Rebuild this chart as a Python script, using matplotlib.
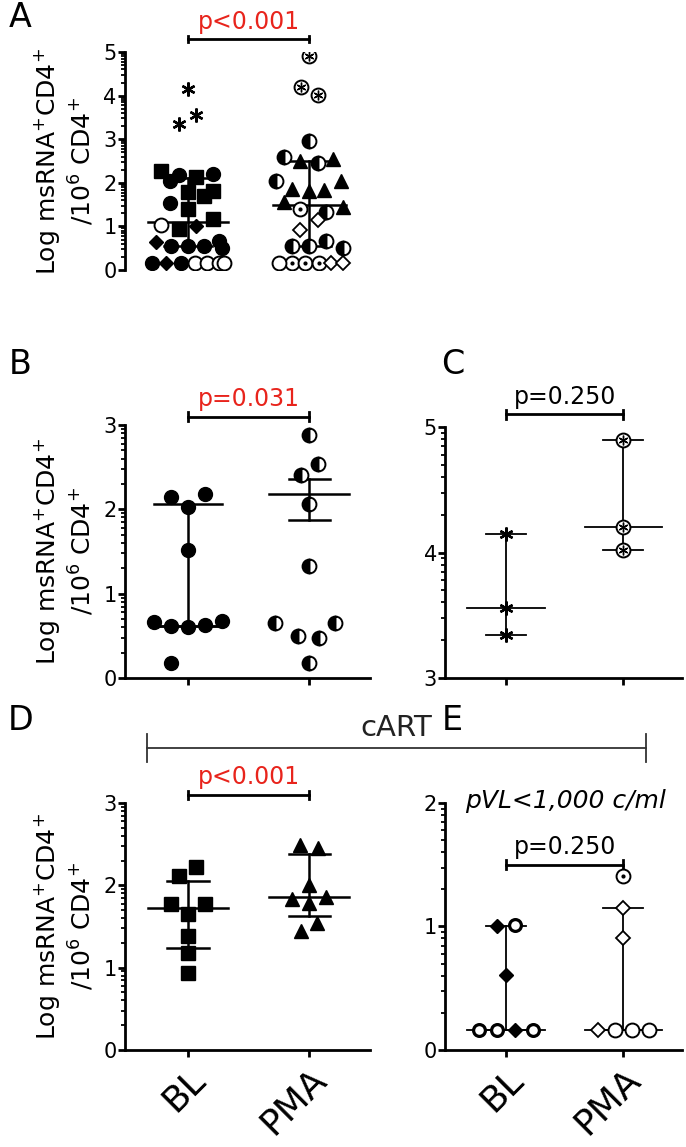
import numpy as np
import matplotlib.pyplot as plt

plt.rcParams['font.family'] = ['DejaVu Sans']

groups = ['BL', 'PMA']

# ---- panel A: all participants ----
a_bl_y = [2.26, 2.04, 2.19, 2.14, 2.21, 1.80, 1.81, 1.70, 1.53, 1.40, 1.18, 1.03, 0.93, 1.02,
          0.65, 0.55, 0.55, 0.55, 0.67, 0.50, 0.17, 0.17, 0.17, 0.17, 0.17, 0.17, 0.17,
          4.15, 3.56, 3.34]
a_bl_dx = [-0.22, -0.15, -0.075, 0.064, 0.21, 0.0, 0.21, 0.13, -0.15, 0.0, 0.21, -0.22, -0.075, 0.064,
           -0.26, -0.14, 0.0, 0.13, 0.26, 0.28, -0.30, -0.18, -0.06, 0.06, 0.16, 0.26, 0.30,
           0.0, 0.065, -0.075]
a_bl_kind = ['sq', 'fc', 'fc', 'sq', 'fc', 'sq', 'sq', 'sq', 'fc', 'sq', 'sq', 'oc', 'sq', 'fd',
             'fd', 'fc', 'fc', 'fc', 'fc', 'fc', 'fc', 'fd', 'fc', 'oc', 'oc', 'oc', 'oc',
             'st', 'st', 'st']
a_bl_stats = [1.10, 0.55, 2.10]   # median, q1, q3

a_pma_y = [2.95, 2.59, 2.49, 2.45, 2.55, 2.05, 1.86, 1.81, 1.84, 2.04, 1.55, 1.41, 1.33, 1.45,
           1.15, 0.91, 0.55, 0.55, 0.67, 0.50, 0.17, 0.17, 0.17, 0.17, 0.17, 0.17,
           4.90, 4.20, 4.02]
a_pma_dx = [0.0, -0.21, -0.075, 0.07, 0.20, -0.27, -0.14, 0.0, 0.125, 0.26, -0.21, -0.075, 0.14, 0.28,
            0.07, -0.075, -0.14, 0.0, 0.14, 0.28, -0.25, -0.14, -0.03, 0.08, 0.18, 0.28,
            0.0, -0.07, 0.07]
a_pma_kind = ['hc', 'hc', 'tr', 'hc', 'tr', 'hc', 'tr', 'tr', 'tr', 'tr', 'tr', 'dc', 'hc', 'tr',
              'od', 'od', 'hc', 'hc', 'hc', 'hc', 'oc', 'dc', 'dc', 'dc', 'od', 'od',
              'cs', 'cs', 'cs']
a_pma_stats = [1.50, 0.55, 2.49]

# ---- panel B ----
b_bl_y = [2.15, 2.18, 2.03, 1.52, 0.66, 0.62, 0.60, 0.63, 0.68, 0.18]
b_bl_dx = [-0.14, 0.14, 0.0, 0.0, -0.28, -0.14, 0.0, 0.14, 0.28, -0.14]
b_bl_stats = [0.62, 0.62, 2.06]
b_pma_y = [2.88, 2.54, 2.41, 2.06, 1.33, 0.65, 0.65, 0.50, 0.48, 0.18]
b_pma_dx = [0.0, 0.075, -0.07, 0.0, 0.0, -0.28, 0.21, -0.09, 0.08, 0.0]
b_pma_stats = [2.18, 1.87, 2.36]   # mean, -sem, +sem

# ---- panel C ----
c_bl_y = [4.15, 3.56, 3.34]
c_pma_y = [4.90, 4.20, 4.02]
c_bl_stats = [3.56, 3.34, 4.15]
c_pma_stats = [4.20, 4.02, 4.90]

# ---- panel D: cART ----
d_bl_y = [2.22, 2.11, 1.77, 1.77, 1.65, 1.39, 1.18, 0.94]
d_bl_dx = [0.064, -0.075, -0.14, 0.14, 0.0, 0.0, 0.0, 0.0]
d_bl_stats = [1.72, 1.24, 2.05]
d_pma_y = [2.49, 2.45, 2.00, 1.84, 1.86, 1.79, 1.54, 1.44]
d_pma_dx = [-0.075, 0.07, 0.0, -0.14, 0.14, 0.0, 0.066, -0.07]
d_pma_stats = [1.86, 1.63, 2.38]

# ---- panel E: pVL<1,000 ----
e_bl_y = [1.00, 1.01, 0.61, 0.16, 0.16, 0.16, 0.16]
e_bl_dx = [-0.078, 0.078, 0.0, -0.23, -0.078, 0.078, 0.23]
e_bl_kind = ['fd', 'bc', 'fd', 'bc', 'bc', 'fd', 'bc']
e_bl_stats = [0.16, 0.16, 1.00]
e_pma_y = [1.41, 1.15, 0.91, 0.16, 0.16, 0.16, 0.16]
e_pma_dx = [0.0, 0.0, 0.0, -0.22, -0.075, 0.075, 0.22]
e_pma_kind = ['dc', 'od', 'od', 'od', 'oc', 'oc', 'oc']
e_pma_stats = [0.16, 0.16, 1.15]

MS = 10
STYLE = {
    'fc': dict(marker='o', mfc='k', mec='k'),
    'sq': dict(marker='s', mfc='k', mec='k', ms=MS - 0.5),
    'fd': dict(marker='D', mfc='k', mec='k', ms=MS - 2.5),
    'oc': dict(marker='o', mfc='white', mec='k', mew=1.4),
    'bc': dict(marker='o', mfc='white', mec='k', mew=2.3, ms=MS - 1.5),
    'hc': dict(marker='o', mfc='k', mec='k', fillstyle='left', markerfacecoloralt='white', mew=1.4),
    'tr': dict(marker='^', mfc='k', mec='k'),
    'od': dict(marker='D', mfc='white', mec='k', mew=1.3, ms=MS - 2.5),
    'st': dict(marker=(6, 2, 0), mfc='k', mec='k', mew=1.7),
    'cs': dict(marker='o', mfc='white', mec='k', mew=1.4),
    'dc': dict(marker='o', mfc='white', mec='k', mew=1.4),
}


def scatter_group(ax, x0, ys, dxs, kinds):
    ys = np.asarray(ys)
    xs = x0 + np.asarray(dxs)
    kinds = np.asarray(kinds)
    for k in np.unique(kinds):
        m = kinds == k
        kw = dict(ms=MS, ls='none', zorder=3)
        kw.update(STYLE[k])
        ax.plot(xs[m], ys[m], **kw)
        if k == 'cs':
            ax.plot(xs[m], ys[m], marker=(6, 2, 0), ms=MS - 3, mec='k', mew=1.0, ls='none', zorder=4)
        if k == 'dc':
            ax.plot(xs[m], ys[m], marker='o', ms=2, mfc='k', mec='k', ls='none', zorder=4)


def summary(ax, x, stats, wmid, wcap, lw=1.8):
    mid, lo, hi = stats
    ax.plot([x, x], [lo, hi], color='k', lw=lw, zorder=2)
    ax.plot([x - wmid, x + wmid], [mid, mid], color='k', lw=lw, zorder=2)
    for v in (lo, hi):
        ax.plot([x - wcap, x + wcap], [v, v], color='k', lw=lw, zorder=2)


def bracket(ax, y, d, text, color):
    ax.plot([0, 1], [y, y], color='k', lw=2, clip_on=False)
    for x in (0, 1):
        ax.plot([x, x], [y - d, y + d], color='k', lw=2, clip_on=False)
    ax.text(0.5, y + 1.3 * d, text, color=color, ha='center', va='bottom', fontsize=17, clip_on=False)


def style_axes(ax, ymin, ymax, show_x=True, labels=False):
    ax.set_xlim(-0.52, 1.5)
    ax.set_ylim(ymin, ymax)
    for s in ('top', 'right'):
        ax.spines[s].set_visible(False)
    ax.spines['left'].set_linewidth(2)
    ax.spines['bottom'].set_linewidth(2)
    ax.set_yticks(range(ymin, ymax + 1))
    minors = [n + np.log10(k) for n in range(ymin, ymax) for k in range(2, 10)]
    ax.set_yticks(minors, minor=True)
    ax.tick_params(axis='y', which='major', length=5, width=2, labelsize=15, pad=1)
    ax.tick_params(axis='y', which='minor', length=3, width=1.3)
    ax.set_xticks([0, 1])
    if labels:
        ax.set_xticklabels(groups, rotation=45, ha='right', rotation_mode='anchor', fontsize=26)
    else:
        ax.set_xticklabels([])
    ax.tick_params(axis='x', length=5, width=2)
    if not show_x:
        ax.spines['bottom'].set_visible(False)
        ax.tick_params(axis='x', length=0)


ylab = 'Log msRNA$^{+}$CD4$^{+}$\n/10$^{6}$ CD4$^{+}$'

fig = plt.figure(figsize=(6.86, 11.47), dpi=100)
axA = fig.add_axes([0.182, 0.7646, 0.357, 0.190])
axB = fig.add_axes([0.182, 0.4089, 0.357, 0.2206])
axC = fig.add_axes([0.649, 0.4089, 0.345, 0.2188])
axD = fig.add_axes([0.182, 0.0846, 0.357, 0.2153])
axE = fig.add_axes([0.649, 0.0846, 0.345, 0.2153])

# A
style_axes(axA, 0, 5, show_x=False)
summary(axA, 0, a_bl_stats, 0.33, 0.2)
summary(axA, 1, a_pma_stats, 0.3, 0.18)
scatter_group(axA, 0, a_bl_y, a_bl_dx, a_bl_kind)
scatter_group(axA, 1, a_pma_y, a_pma_dx, a_pma_kind)
bracket(axA, 5.3, 0.08, 'p<0.001', '#e8241c')
axA.set_ylabel(ylab, fontsize=18, labelpad=5)

# B
style_axes(axB, 0, 3)
summary(axB, 0, b_bl_stats, 0.28, 0.28)
summary(axB, 1, b_pma_stats, 0.33, 0.17)
scatter_group(axB, 0, b_bl_y, b_bl_dx, ['fc'] * len(b_bl_y))
scatter_group(axB, 1, b_pma_y, b_pma_dx, ['hc'] * len(b_pma_y))
bracket(axB, 3.1, 0.05, 'p=0.031', '#e8241c')
axB.set_ylabel(ylab, fontsize=18, labelpad=5)

# C
style_axes(axC, 3, 5)
summary(axC, 0, c_bl_stats, 0.33, 0.17, lw=1.3)
summary(axC, 1, c_pma_stats, 0.33, 0.17, lw=1.3)
scatter_group(axC, 0, c_bl_y, [0] * 3, ['st'] * 3)
scatter_group(axC, 1, c_pma_y, [0] * 3, ['cs'] * 3)
bracket(axC, 5.1, 0.035, 'p=0.250', 'k')

# D
style_axes(axD, 0, 3, labels=True)
summary(axD, 0, d_bl_stats, 0.33, 0.17)
summary(axD, 1, d_pma_stats, 0.33, 0.17)
scatter_group(axD, 0, d_bl_y, d_bl_dx, ['sq'] * len(d_bl_y))
scatter_group(axD, 1, d_pma_y, d_pma_dx, ['tr'] * len(d_pma_y))
bracket(axD, 3.1, 0.05, 'p<0.001', '#e8241c')
axD.set_ylabel(ylab, fontsize=18, labelpad=5)

# E
style_axes(axE, 0, 2, labels=True)
summary(axE, 0, e_bl_stats, 0.33, 0.17, lw=1.3)
summary(axE, 1, e_pma_stats, 0.33, 0.17, lw=1.3)
scatter_group(axE, 0, e_bl_y, e_bl_dx, e_bl_kind)
scatter_group(axE, 1, e_pma_y, e_pma_dx, e_pma_kind)
bracket(axE, 1.5, 0.035, 'p=0.250', 'k')
fig.text(0.825, 0.302, 'pVL<1,000 c/ml', style='italic', ha='center', va='center', fontsize=18)

# cART span
ly = 0.3479
fig.add_artist(plt.Line2D([0.214, 0.942], [ly, ly], color='#333333', lw=1.3))
for x in (0.214, 0.942):
    fig.add_artist(plt.Line2D([x, x], [ly - 0.012, ly + 0.012], color='#333333', lw=1.3))
fig.text(0.578, ly + 0.005, 'cART', ha='center', va='bottom', fontsize=21, color='#222222')

for lbl, x, y in [('A', 0.03, 0.985), ('B', 0.03, 0.682), ('C', 0.66, 0.682),
                  ('D', 0.03, 0.372), ('E', 0.66, 0.372)]:
    fig.text(x, y, lbl, fontsize=24, ha='center', va='center')

fig.savefig('out.png', dpi=100)
